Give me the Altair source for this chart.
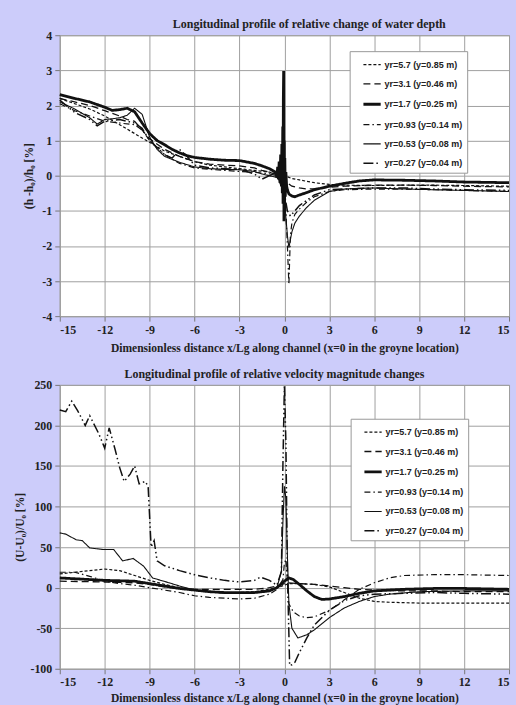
import altair as alt
import pandas as pd

LABELS = ["yr=5.7 (y=0.85 m)", "yr=3.1 (y=0.46 m)", "yr=1.7 (y=0.25 m)",
          "yr=0.93 (y=0.14 m)", "yr=0.53 (y=0.08 m)", "yr=0.27 (y=0.04 m)"]
DASHES = [[3, 2], [7, 4], [1, 0], [6, 3, 1.5, 3], [1, 0], [10, 3, 1.5, 3, 1.5, 3]]
WIDTHS = [1.2, 1.3, 2.8, 1.2, 1.1, 1.5]

X_TICKS = [-15, -12, -9, -6, -3, 0, 3, 6, 9, 12, 15]
H_TICKS = [-4, -3, -2, -1, 0, 1, 2, 3, 4]
U_TICKS = [-100, -50, 0, 50, 100, 150, 200, 250]

# ---- water depth panel ----
H_X_57 = [-15, -14, -13, -12, -11, -10, -9, -8, -7, -6, -5, -4, -3, -2, -1, -0.5, 0, 0.5, 1, 2, 3, 4, 6, 8, 10, 12, 15]
H_Y_57 = [2.2, 2.05, 1.9, 1.7, 1.45, 1.2, 0.95, 0.7, 0.55, 0.4, 0.3, 0.25, 0.2, 0.15, 0.1, 0.05, 0, -0.08, -0.12, -0.2, -0.25, -0.27, -0.28, -0.27, -0.27, -0.28, -0.3]

H_X_31 = [-15, -14, -13, -12, -11, -10.5, -10, -9.5, -9, -8, -7, -6, -5, -4, -3, -2, -1.5, -1, -0.5, 0, 0.2, 0.5, 1, 1.5, 2, 3, 4, 6, 8, 10, 12, 15]
H_Y_31 = [2.2, 2.1, 2.0, 1.85, 1.7, 1.6, 1.55, 1.3, 1.05, 0.75, 0.55, 0.4, 0.33, 0.3, 0.28, 0.22, 0.15, 0.1, 0.03, -0.05, -0.2, -0.3, -0.35, -0.38, -0.37, -0.33, -0.3, -0.27, -0.27, -0.28, -0.3, -0.32]

H_X_17 = [-15, -14, -13, -12, -11.5, -11, -10.5, -10, -9.5, -9, -8.5, -8, -7.5, -7, -6.5, -6, -5, -4, -3, -2,
          -1.5, -1, -0.6, -0.5, -0.45, -0.4, -0.35, -0.3, -0.25, -0.2, -0.17, -0.14, -0.11, -0.09, -0.07, -0.05,
          -0.03, -0.01, 0.01, 0.03, 0.06, 0.1, 0.15, 0.2, 0.3, 0.5, 0.7, 1, 1.5, 2, 3, 4, 5, 6, 8, 10, 12, 15]
H_Y_17 = [2.31, 2.2, 2.1, 1.95, 1.86, 1.88, 1.92, 1.82, 1.5, 1.2, 1.0, 0.88, 0.75, 0.65, 0.57, 0.52, 0.47, 0.44, 0.43, 0.35,
          0.28, 0.2, 0.1, -0.05, 0.25, -0.1, 0.4, -0.2, 0.6, -0.3, 0.9, -0.5, 1.4, -0.8, 2.2, 2.98,
          -1.3, 1.0, -1.0, 0.5, -0.6, 0.1, -0.3, -0.4, -0.52, -0.58, -0.6, -0.55, -0.48, -0.4, -0.3, -0.22, -0.15, -0.12, -0.13, -0.15, -0.18, -0.2]

H_X_093 = [-15, -14, -13, -12, -11, -10, -9.5, -9, -8, -7, -6, -5, -4, -3, -2, -1, -0.5, 0, 0.1, 0.2, 0.3, 0.35, 0.4, 0.5, 0.7, 1, 1.5, 2, 3, 4, 6, 8, 10, 12, 15]
H_Y_093 = [2.05, 1.85, 1.7, 1.55, 1.5, 1.45, 1.3, 1.0, 0.6, 0.35, 0.22, 0.18, 0.15, 0.12, 0.1, 0.05, 0.0, -0.3, -1.0, -2.0, -3.1, -2.4, -1.7, -1.35, -1.1, -0.95, -0.75, -0.6, -0.45, -0.4, -0.38, -0.38, -0.4, -0.42, -0.45]

H_X_053 = [-15, -14, -13, -12.5, -12, -11.5, -11, -10.5, -10, -9.5, -9, -8.5, -8, -7, -6, -5, -4, -3, -2, -1.5, -1, -0.5, -0.2, 0, 0.1, 0.2, 0.3, 0.5, 0.7, 1, 1.5, 2, 3, 4, 5, 6, 8, 10, 12, 15]
H_Y_053 = [2.1, 1.9, 1.65, 1.47, 1.6, 1.62, 1.65, 1.72, 1.92, 1.75, 1.1, 0.75, 0.55, 0.38, 0.25, 0.2, 0.18, 0.17, 0.12, 0.05, 0.0, -0.05, -0.2, -0.6, -1.2, -1.7, -2.05, -1.6, -1.35, -1.15, -0.9, -0.7, -0.45, -0.38, -0.36, -0.35, -0.38, -0.4, -0.42, -0.45]

H_X_027 = [-15, -14, -13, -12.5, -12, -11, -10, -9.5, -9, -8.5, -8, -7.5, -7, -6.5, -6, -5, -4, -3, -2, -1.5, -1, -0.5, 0, 0.2, 0.4, 0.6, 1, 2, 3, 4, 6, 8, 10, 12, 15]
H_Y_027 = [2.15, 1.8, 1.6, 1.42, 1.55, 1.6, 1.5, 1.35, 1.0, 0.8, 0.6, 0.5, 0.75, 0.55, 0.3, 0.22, 0.2, 0.18, 0.05, -0.1, 0.0, 0.0, -0.5, -1.0, -1.15, -1.05, -0.85, -0.55, -0.4, -0.38, -0.35, -0.35, -0.38, -0.4, -0.42]

# ---- velocity panel ----
U_X_57 = [-15, -14, -13, -12, -11, -10, -9, -8, -7, -6, -5, -4, -3, -2, -1, -0.5, 0, 0.3, 0.6, 1, 2, 3, 4, 5, 6, 7, 9, 12, 15]
U_Y_57 = [17, 19, 21, 23, 21, 15, 9, 4, 0, -3, -5, -6, -6, -5, -2, 0, 3, 5, 5, 5, 4, 1, -6, -13, -17, -18, -19, -19, -19]

U_X_31 = [-15, -12, -10, -9, -8, -7, -6, -4, -2, -1, -0.5, 0, 0.3, 1, 2, 3, 4, 5, 6, 8, 10, 12, 15]
U_Y_31 = [8, 7, 6, 4, 1, -1, -2, -2, -2, 0, 2, 5, 6, 5, 4, 2, 0, -2, -3, -4, -4, -5, -5]

U_X_17 = [-15, -12, -10, -9, -8, -7, -6, -5, -4, -3, -2, -1, -0.5, 0, 0.3, 0.6, 1, 1.5, 2, 2.5, 3, 4, 5, 6, 8, 10, 12, 15]
U_Y_17 = [12, 9, 8, 5, 2, -1, -3, -5, -6, -6, -6, -4, 0, 8, 12, 10, 4, -4, -11, -14.5, -14, -11, -7, -4, -2, -1, -1, -2]

U_X_093 = [-15, -14, -13, -12, -11, -10, -9, -8, -7, -6, -5, -4, -3, -2, -1, -0.5, -0.1, 0, 0.1, 0.3, 0.6, 1, 1.5, 2, 3, 4, 5, 6, 7, 8, 10, 12, 15]
U_Y_093 = [19, 19, 14, 8, 5, 3, 0, -3, -6, -10, -12, -13, -14, -13, -8, -2, 10, 30, 35, -20, -30, -35, -37, -36, -28, -15, -2, 6, 12, 15, 16, 16, 15]

U_X_053 = [-15, -14.6, -13.9, -13.5, -13, -12.1, -11.4, -10.8, -10.1, -9.4, -8.8, -7.7, -7, -6, -5, -4, -3, -2, -1, -0.5,
           -0.2, -0.1, 0, 0.1, 0.2, 0.3, 0.5, 0.9, 1.5, 2, 3, 4, 5, 6, 7, 9, 12, 15]
U_Y_053 = [67.5, 66, 59, 58, 49, 47, 47, 33, 36, 26.5, 12, 6, 2, -3, -5, -7, -7, -6, -3, 0,
           20, 80, 125, 110, 40, -20, -50, -62, -58, -52, -37, -25, -17, -11, -8, -5, -4, -4]

U_X_027 = [-15, -14.6, -14.2, -13.8, -13.3, -13.0, -12.4, -12.0, -11.7, -11.3, -11.0, -10.7, -10.3, -10.0, -9.7, -9.3,
           -9.1, -8.9, -8.7, -8.5, -8.0, -7, -6, -5, -4, -3, -2, -1.6, -1.0, -0.5, -0.2, -0.1, 0, 0.1, 0.2, 0.35,
           0.5, 0.7, 1.0, 1.5, 2, 3, 4, 5, 6, 8, 10, 12, 15]
U_Y_027 = [219, 217, 230, 218, 200, 212, 190, 172, 197, 170, 148, 131, 140, 150, 128, 131,
           125, 50, 58, 33, 27, 21, 16, 12, 9, 7, 9, 13, 9, 3, 20, 150, 250, 180, 20, -96,
           -95, -92, -80, -62, -46, -28, -16, -10, -8, -7, -6, -7, -8]

H_SERIES = [(H_X_57, H_Y_57), (H_X_31, H_Y_31), (H_X_17, H_Y_17), (H_X_093, H_Y_093), (H_X_053, H_Y_053), (H_X_027, H_Y_027)]
U_SERIES = [(U_X_57, U_Y_57), (U_X_31, U_Y_31), (U_X_17, U_Y_17), (U_X_093, U_Y_093), (U_X_053, U_Y_053), (U_X_027, U_Y_027)]


def frame(series):
    rows = []
    for lab, (xs, ys) in zip(LABELS, series):
        for i, (xv, yv) in enumerate(zip(xs, ys)):
            rows.append({"x": xv, "y": yv, "s": lab, "o": i})
    return pd.DataFrame(rows)


SERIF = "Liberation Serif"
SANS = "Liberation Sans"
GRID = "#a0a0a0"
X_TITLE = "Dimensionless distance x/Lg along channel (x=0 in the groyne location)"


def panel(df, title, dx, ytitle, ydom, yticks, h, lx, ly, ytpad, xtpad):
    leg = alt.Legend(title=None, orient="none", legendX=lx, legendY=ly, labelExpr="datum.label + '   '")
    return alt.Chart(df, title=alt.Title(title, dx=dx, offset=-2)).mark_line(color="#111111").encode(
        x=alt.X("x:Q", scale=alt.Scale(domain=[-15, 15], nice=False),
                axis=alt.Axis(values=X_TICKS, title=X_TITLE, labelExpr="'' + datum.value", titlePadding=xtpad)),
        y=alt.Y("y:Q", scale=alt.Scale(domain=ydom, nice=False),
                axis=alt.Axis(values=yticks, title=ytitle, labelExpr="'' + datum.value", titlePadding=ytpad)),
        strokeDash=alt.StrokeDash("s:N", scale=alt.Scale(type="ordinal", domain=LABELS, range=DASHES), legend=leg),
        strokeWidth=alt.StrokeWidth("s:N", scale=alt.Scale(type="ordinal", domain=LABELS, range=WIDTHS), legend=leg),
        order="o:Q",
    ).properties(width=451, height=h)


top = panel(frame(H_SERIES), "Longitudinal profile of relative change of water depth", 25,
            "(h -h₀)/h₀ [%]", [-4, 4], H_TICKS, 282, 291, 16, 7, 7)
bottom = panel(frame(U_SERIES), "Longitudinal profile of relative velocity magnitude changes", -10,
               "(U-U₀)/U₀ [%]", [-100, 250], U_TICKS, 285, 292, 34, 4, 5)

chart = alt.vconcat(top, bottom, spacing=12).resolve_scale(strokeDash="independent", strokeWidth="independent").properties(
    background="#ccccfa",
    padding={"left": 14, "top": 16, "right": 0, "bottom": 0},
).configure_view(
    fill="white", stroke=GRID, strokeWidth=1
).configure_axis(
    gridColor=GRID, gridWidth=1, domainColor=GRID, tickColor="#777777", tickSize=5,
    labelFont=SERIF, labelFontWeight="bold", labelFontSize=12, labelColor="#222222",
    titleFont=SERIF, titleFontWeight="bold", titleFontSize=11.6, titleColor="#222222",
    labelPadding=3,
).configure_title(
    font=SERIF, fontWeight="bold", fontSize=12, color="#222222", anchor="middle"
).configure_legend(
    symbolType="stroke", symbolStrokeColor="#111111", symbolSize=300,
    labelFont=SANS, labelFontWeight="bold", labelFontSize=9, labelColor="#222222",
    fillColor="white", strokeColor="#999999", padding=4, rowPadding=4.4,
    symbolOffset=8, labelOffset=2,
)

chart.save("out.html", embed_options={"renderer": "svg", "actions": False})
